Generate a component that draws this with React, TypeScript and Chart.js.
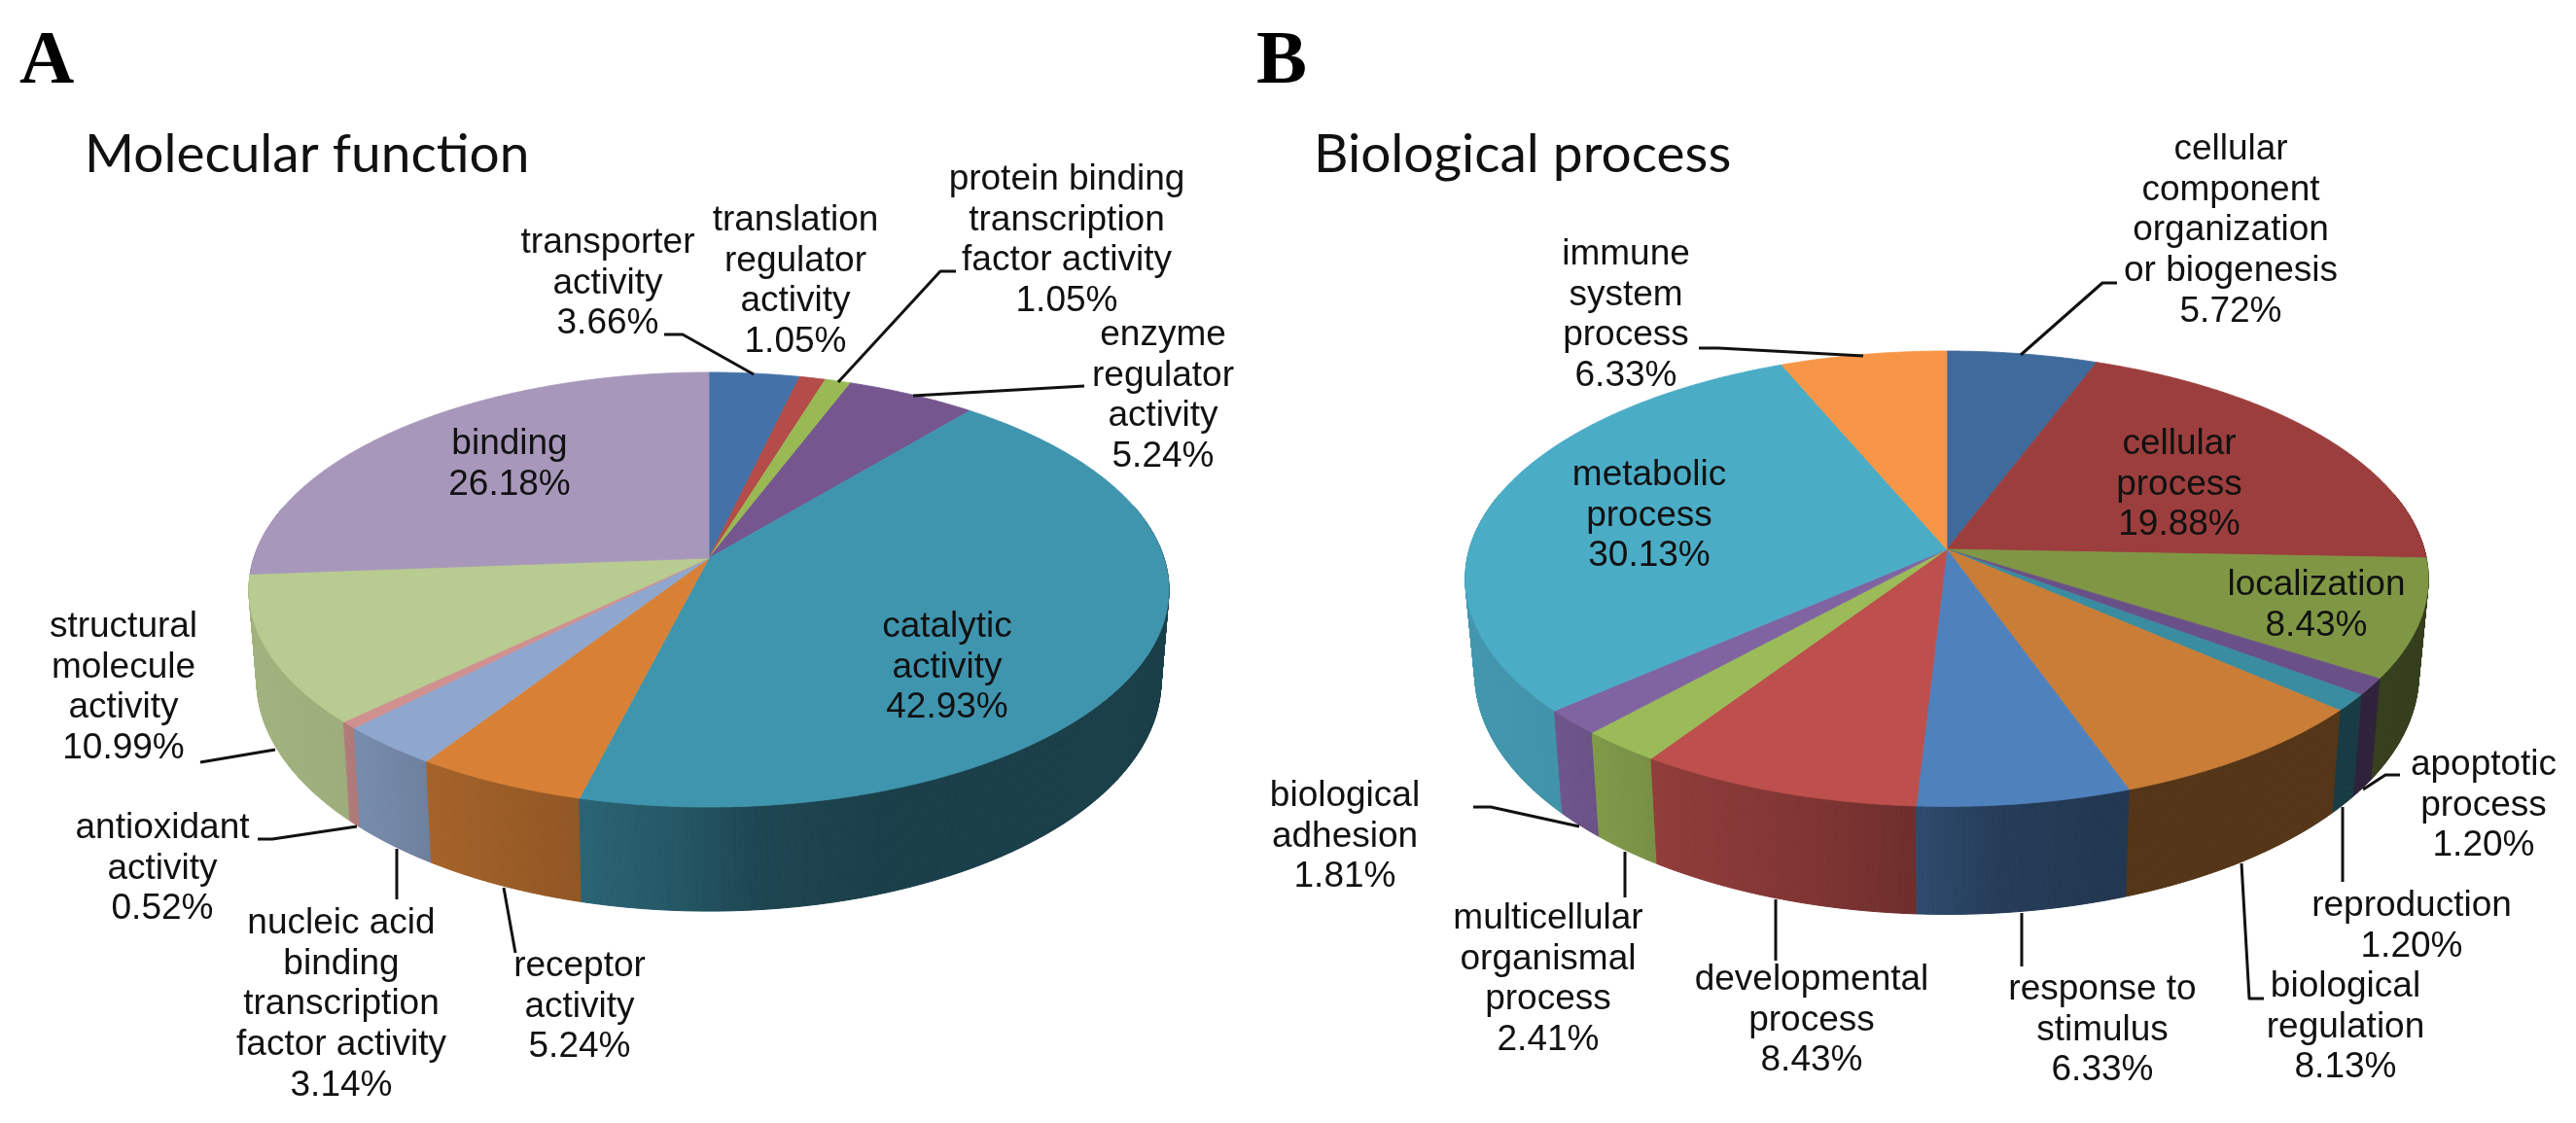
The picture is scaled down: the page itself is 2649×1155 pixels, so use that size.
import React, { useEffect, useRef } from "react";
import { Chart, registerables } from "chart.js";

Chart.register(...registerables);

// ---- Data ----
const categoriesA = [
  "transporter activity",
  "translation regulator activity",
  "protein binding transcription factor activity",
  "enzyme regulator activity",
  "catalytic activity",
  "receptor activity",
  "nucleic acid binding transcription factor activity",
  "antioxidant activity",
  "structural molecule activity",
  "binding",
];
const valuesA = [3.66, 1.05, 1.05, 5.24, 42.93, 5.24, 3.14, 0.52, 10.99, 26.18];
const colorsA = ["#4472A8", "#B44C49", "#98B954", "#75568F", "#3F95AE", "#D88136", "#8FA7CE", "#D09090", "#B8CB90", "#A797BB"];

const categoriesB = [
  "cellular component organization or biogenesis",
  "cellular process",
  "localization",
  "apoptotic process",
  "reproduction",
  "biological regulation",
  "response to stimulus",
  "developmental process",
  "multicellular organismal process",
  "biological adhesion",
  "metabolic process",
  "immune system process",
];
const valuesB = [5.72, 19.88, 8.43, 1.2, 1.2, 8.13, 6.33, 8.43, 2.41, 1.81, 30.13, 6.33];
const colorsB = ["#3F6A9C", "#9C3E3D", "#7F9744", "#6A5088", "#3A8CA0", "#C97D36", "#4F81BD", "#BD4F4C", "#9BBB59", "#8064A2", "#4BACC6", "#F79646"];

// ---- Layout (page pixels) ----
const LINE = 41.7;
const labelsA = [
  { lines: ["transporter", "activity"], x: 625, y: 260 },
  { lines: ["translation", "regulator", "activity"], x: 818, y: 237 },
  { lines: ["protein binding", "transcription", "factor activity"], x: 1097, y: 195 },
  { lines: ["enzyme", "regulator", "activity"], x: 1196, y: 355 },
  { lines: ["catalytic", "activity"], x: 974, y: 655 },
  { lines: ["receptor", "activity"], x: 596, y: 1004 },
  { lines: ["nucleic acid", "binding", "transcription", "factor activity"], x: 351, y: 960 },
  { lines: ["antioxidant", "activity"], x: 167, y: 862 },
  { lines: ["structural", "molecule", "activity"], x: 127, y: 655 },
  { lines: ["binding"], x: 524, y: 467 },
];
const labelsB = [
  { lines: ["cellular", "component", "organization", "or biogenesis"], x: 2294, y: 164 },
  { lines: ["cellular", "process"], x: 2241, y: 467 },
  { lines: ["localization"], x: 2382, y: 612 },
  { lines: ["apoptotic", "process"], x: 2554, y: 797 },
  { lines: ["reproduction"], x: 2480, y: 942 },
  { lines: ["biological", "regulation"], x: 2412, y: 1025 },
  { lines: ["response to", "stimulus"], x: 2162, y: 1028 },
  { lines: ["developmental", "process"], x: 1863, y: 1018 },
  { lines: ["multicellular", "organismal", "process"], x: 1592, y: 955 },
  { lines: ["biological", "adhesion"], x: 1383, y: 829 },
  { lines: ["metabolic", "process"], x: 1696, y: 499 },
  { lines: ["immune", "system", "process"], x: 1672, y: 272 },
];
const leadersA = [
  [[683, 344], [702, 344], [775, 385]],
  [[983, 279], [967, 279], [862, 393]],
  [[1115, 397], [939, 407]],
  [[206, 784], [283, 771]],
  [[265, 863], [280, 863], [367, 850]],
  [[408, 873], [408, 925]],
  [[518, 913], [530, 980]],
];
const leadersB = [
  [[2177, 291], [2162, 291], [2078, 365]],
  [[1747, 358], [1767, 358], [1916, 366]],
  [[1515, 830], [1533, 830], [1624, 850]],
  [[1671, 876], [1671, 923]],
  [[1826, 925], [1826, 988]],
  [[2079, 939], [2079, 994]],
  [[2305, 888], [2313, 1027], [2328, 1027]],
  [[2409, 830], [2409, 907]],
  [[2430, 812], [2453, 797], [2468, 797]],
];
const panelA = { letter: "A", letterX: 20, title: "Molecular function", titleX: 87, cx: 729, cy: 574, a: 468, b: 218.8, k: 0.1454, depth: 91.5, taper: 0.983 };
const panelB = { letter: "B", letterX: 1292, title: "Biological process", titleX: 1351, cx: 2002, cy: 565, a: 491, b: 230.3, k: 0.129, depth: 96.7, taper: 0.98 };

const SHADE_T = [0, 0.1, 0.2, 0.36, 0.47, 0.55, 0.7, 1];
const SHADE_F = [0.88, 0.85, 0.76, 0.67, 0.58, 0.47, 0.42, 0.42];

function shadeAt(t: number) {
  for (let i = 1; i < SHADE_T.length; i++) {
    if (t <= SHADE_T[i]) {
      const f = (t - SHADE_T[i - 1]) / (SHADE_T[i] - SHADE_T[i - 1]);
      return SHADE_F[i - 1] + f * (SHADE_F[i] - SHADE_F[i - 1]);
    }
  }
  return SHADE_F[SHADE_F.length - 1];
}
function scaled(hex: string, f: number) {
  const n = parseInt(hex.slice(1), 16);
  return `rgb(${Math.round(((n >> 16) & 255) * f)},${Math.round(((n >> 8) & 255) * f)},${Math.round((n & 255) * f)})`;
}

// Perspective pie: takes each slice's angles from Chart.js' own arc elements.
const perspectivePie = {
  id: "perspectivePie",
  beforeDatasetDraw(chart: any, _args: any, opts: any) {
    const { cx, cy, a, b, k, depth, taper } = opts.panel;
    const ctx = chart.ctx;
    const meta = chart.getDatasetMeta(0);
    const colors = chart.data.datasets[0].backgroundColor;
    const rx = a / Math.sqrt(1 - k * k);
    const project = (theta: number) => {
      const phi = theta + Math.PI / 2;
      const u = Math.sin(phi);
      const v = Math.cos(phi);
      const den = 1 + k * v;
      const dx = (a * u) / den;
      return {
        v,
        x: cx + dx,
        y: cy - (b * v) / den,
        bx: cx + dx * taper,
        by: cy - (b * v) / den + depth / den,
      };
    };
    const quads: any[] = [];
    meta.data.forEach((arc: any, i: number) => {
      const s = arc.startAngle;
      const e = arc.endAngle;
      const n = Math.max(2, Math.ceil((e - s) / 0.006));
      for (let j = 0; j < n; j++) {
        const p = project(s + ((e - s) * j) / n);
        const q = project(s + ((e - s) * (j + 1)) / n);
        if (p.v < 0.25 || q.v < 0.25) quads.push({ p, q, c: colors[i] });
      }
    });
    quads.sort((m, n) => n.p.v - m.p.v);
    ctx.save();
    ctx.lineWidth = 1;
    for (const { p, q, c } of quads) {
      const t = ((p.x + q.x) / 2 - (cx - rx)) / (2 * rx);
      const col = scaled(c, shadeAt(t));
      ctx.fillStyle = col;
      ctx.strokeStyle = col;
      ctx.beginPath();
      ctx.moveTo(p.x, p.y);
      ctx.lineTo(q.x, q.y);
      ctx.lineTo(q.bx, q.by);
      ctx.lineTo(p.bx, p.by);
      ctx.closePath();
      ctx.fill();
      ctx.stroke();
    }
    meta.data.forEach((arc: any, i: number) => {
      const s = arc.startAngle;
      const e = arc.endAngle;
      const n = Math.max(4, Math.ceil((e - s) / 0.006));
      ctx.fillStyle = colors[i];
      ctx.strokeStyle = colors[i];
      ctx.lineWidth = 0.8;
      ctx.beginPath();
      ctx.moveTo(cx, cy);
      for (let j = 0; j <= n; j++) {
        const p = project(s + ((e - s) * j) / n);
        ctx.lineTo(p.x, p.y);
      }
      ctx.closePath();
      ctx.fill();
      ctx.stroke();
    });
    ctx.restore();
    return false;
  },
  afterDraw(chart: any, _args: any, opts: any) {
    const ctx = chart.ctx;
    const { panel, labels, leaders } = opts;
    const values = chart.data.datasets[0].data;
    ctx.save();
    ctx.strokeStyle = "#111";
    ctx.lineWidth = 3;
    ctx.lineJoin = "round";
    for (const line of leaders) {
      ctx.beginPath();
      line.forEach((pt: number[], i: number) => (i ? ctx.lineTo(pt[0], pt[1]) : ctx.moveTo(pt[0], pt[1])));
      ctx.stroke();
    }
    ctx.fillStyle = "#111";
    ctx.textAlign = "center";
    ctx.textBaseline = "alphabetic";
    ctx.font = '37px "Liberation Sans"';
    labels.forEach((lab: any, i: number) => {
      const rows = [...lab.lines, `${values[i].toFixed(2)}%`];
      rows.forEach((r: string, j: number) => ctx.fillText(r, lab.x, lab.y + j * LINE));
    });
    ctx.textAlign = "left";
    ctx.fillStyle = "#000";
    ctx.font = 'bold 78px "Liberation Serif"';
    ctx.fillText(panel.letter, panel.letterX, 85);
    ctx.fillStyle = "#111";
    ctx.font = '55px Lato';
    ctx.fillText(panel.title, panel.titleX, 177);
    ctx.restore();
  },
};

function Pie({ categories, values, colors, panel, labels, leaders }: any) {
  const ref = useRef<HTMLCanvasElement>(null);
  useEffect(() => {
    const chart = new Chart(ref.current as HTMLCanvasElement, {
      type: "pie",
      data: {
        labels: categories,
        datasets: [{ data: values, backgroundColor: colors, borderWidth: 0 }],
      },
      options: {
        animation: false,
        responsive: false,
        devicePixelRatio: 1,
        plugins: {
          legend: { display: false },
          tooltip: { enabled: false },
          perspectivePie: { panel, labels, leaders },
        },
      } as any,
      plugins: [perspectivePie as any],
    });
    return () => chart.destroy();
  }, []);
  return <canvas ref={ref} width={2649} height={1155} style={{ position: "absolute", left: 0, top: 0, display: "block" }} />;
}

export default function App() {
  useEffect(() => {
    document.body.style.margin = "0";
    document.body.style.background = "#fff";
  }, []);
  return (
    <div style={{ position: "relative", width: 2649, height: 1155, background: "#fff", overflow: "hidden" }}>
      <Pie categories={categoriesA} values={valuesA} colors={colorsA} panel={panelA} labels={labelsA} leaders={leadersA} />
      <Pie categories={categoriesB} values={valuesB} colors={colorsB} panel={panelB} labels={labelsB} leaders={leadersB} />
    </div>
  );
}
